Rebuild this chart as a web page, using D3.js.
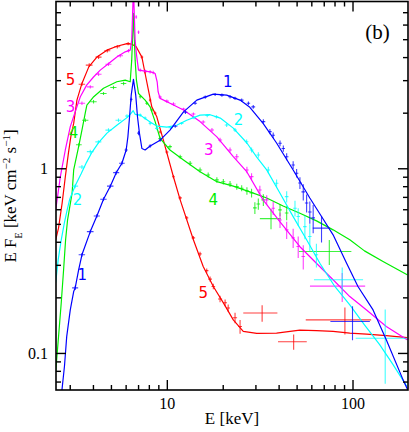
<!DOCTYPE html>
<html>
<head>
<meta charset="utf-8">
<script src="https://cdn.jsdelivr.net/npm/d3@7"></script>
<style>
  body { margin: 0; background: #fff; }
  svg text { font-family: "Liberation Serif", "Times New Roman", serif; }
</style>
</head>
<body>
<svg id="chart" width="409" height="432"></svg>
<script>
// ----- TICKS -----
const xMajor = [10, 100];
const xMinor = [3, 4, 5, 6, 7, 8, 9, 20, 30, 40, 50, 60, 70, 80, 90];
const yMajor = [0.1, 1];
const yMinor = [0.07, 0.08, 0.09, 0.2, 0.3, 0.4, 0.5, 0.6, 0.7, 0.8, 0.9, 2, 3, 4, 5, 6, 7];

// ----- MODELS [E keV, E F_E] -----
const model1 = [[2.69,0.056],[2.81,0.0847],[2.89,0.123],[3.02,0.171],[3.15,0.215],[3.21,0.225],[3.35,0.282],[3.49,0.34],[3.87,0.454],[4.2,0.552],[4.56,0.68],[4.96,0.8],[5.34,0.947],[5.73,1.064],[6.04,1.256],[6.17,1.48],[6.3,1.9],[6.43,2.49],[6.61,3.03],[6.8,2.49],[6.95,1.9],[7.12,1.55],[7.34,1.28],[7.64,1.256],[8.13,1.32],[9.2,1.42],[10.4,1.61],[12.3,2.02],[14.5,2.34],[17.8,2.52],[21,2.49],[24.8,2.34],[28,2.14],[33,1.75],[39,1.37],[47.9,0.979],[58.9,0.69],[68.1,0.548],[78.6,0.436],[92.8,0.307],[107,0.229],[129,0.171],[152,0.118],[187,0.0717],[203,0.06]];
const model2 = [[2.52,0.24],[2.6,0.32],[2.7,0.41],[2.8,0.5],[2.9,0.59],[3.0,0.68],[3.2,0.8],[3.45,0.93],[3.7,1.08],[3.95,1.22],[4.3,1.38],[4.76,1.55],[5.38,1.71],[6.1,1.88],[6.35,1.96],[6.59,2.05],[6.75,1.96],[7.19,1.94],[8.13,1.78],[8.87,1.69],[10,1.67],[11.3,1.71],[12.8,1.82],[15.1,1.94],[17.1,1.95],[19.4,1.87],[22.8,1.65],[27,1.37],[30.5,1.15],[34.5,0.98],[40.7,0.733],[47.9,0.547],[56.6,0.41],[66.7,0.306],[80.3,0.229],[96.7,0.182],[116,0.142],[140,0.111],[165,0.0867],[196,0.066]];
const model3 = [[2.52,0.594],[2.67,0.9],[2.84,1.256],[3.02,1.68],[3.21,2.02],[3.42,2.44],[3.7,2.82],[4.04,3.13],[4.38,3.4],[4.86,3.69],[5.38,4.0],[5.97,4.27],[6.35,4.36],[6.47,4.94],[6.61,9.5],[6.75,4.94],[6.87,4.1],[7.04,3.4],[8.13,3.33],[8.65,3.26],[8.87,2.94],[8.98,2.59],[9.2,2.39],[10.4,2.25],[12.3,2.07],[15.1,1.79],[18.6,1.48],[22.8,1.155],[27,0.955],[33,0.674],[40.7,0.513],[52.1,0.376],[63.9,0.306],[78.6,0.249],[96.7,0.202],[119,0.171],[152,0.139],[197,0.118]];
const model4 = [[2.52,0.079],[2.61,0.122],[2.7,0.187],[2.78,0.282],[2.85,0.41],[2.92,0.525],[3.09,0.735],[3.15,0.979],[3.35,1.31],[3.49,1.61],[3.64,2.0],[3.71,2.2],[4.04,2.44],[4.56,2.71],[5.38,2.94],[5.97,3.0],[6.35,2.94],[6.47,3.85],[6.61,6.9],[6.75,3.85],[6.86,3.0],[7.04,2.54],[7.64,2.34],[8.13,2.15],[8.65,1.79],[9.2,1.45],[10.4,1.256],[12.3,1.11],[15.1,0.958],[18.6,0.846],[22.8,0.8],[28,0.745],[34.5,0.69],[42.3,0.625],[52.1,0.571],[64,0.519],[78.6,0.464],[96.7,0.41],[116,0.357],[146,0.313],[197,0.265]];
const model5 = [[2.52,0.41],[2.61,0.474],[2.73,0.647],[2.84,0.9],[2.95,1.205],[3.04,1.48],[3.15,1.75],[3.28,2.34],[3.49,2.88],[3.8,3.54],[4.2,4.0],[4.76,4.36],[5.38,4.58],[6.1,4.73],[6.49,4.7],[6.84,4.55],[7.34,4.0],[7.64,3.26],[7.96,2.65],[8.3,2.15],[8.83,1.9],[9.58,1.42],[10.85,0.9],[11.8,0.674],[13.9,0.41],[15.7,0.294],[17.8,0.229],[20.2,0.186],[22.8,0.151],[25.8,0.131],[30.5,0.1275],[39,0.128],[52,0.133],[64,0.132],[78.6,0.131],[96.7,0.128],[119,0.1265],[152,0.124],[197,0.121]];

// ----- DATA [E, dE, EF_E, dEF_E] -----
const data1 = [[3.21,0.12,0.225,0.006],[3.49,0.14,0.34,0.008],[3.87,0.16,0.454,0.011],[4.2,0.16,0.552,0.013],[4.56,0.18,0.68,0.016],[4.96,0.2,0.8,0.02],[5.34,0.2,0.947,0.024],[5.73,0.2,1.064,0.026],[6.04,0.12,1.256,0.03],[6.43,0.1,2.36,0.06],[7.04,0.12,1.55,0.04],[8.13,0.15,1.32,0.03],[9.2,0.15,1.42,0.03],[11.1,0.3,1.69,0.03],[12.6,0.3,2.01,0.04],[14.2,0.35,2.25,0.04],[16.1,0.4,2.43,0.05],[18.2,0.45,2.51,0.05],[19.8,0.5,2.49,0.05],[21.9,0.5,2.44,0.05],[23.3,0.55,2.39,0.05],[25.3,0.6,2.34,0.05],[27.5,0.6,2.25,0.05],[29.2,0.7,2.15,0.05],[33.1,0.8,1.79,0.05],[35.9,0.8,1.58,0.05],[37.4,0.8,1.51,0.05],[40.7,0.9,1.365,0.05],[42.4,0.9,1.28,0.05],[44.2,1,1.155,0.05],[47.9,1,1.042,0.05],[50,1.1,0.94,0.05],[52.1,1.1,0.833,0.06],[54.3,1.2,0.745,0.075],[56.6,1.2,0.649,0.073],[58.9,1.3,0.58,0.08],[61.4,1.4,0.539,0.094],[68.1,7,0.474,0.078],[100,24,0.148,0.031]];
const data2 = [[3.21,0.12,0.8,0.02],[3.49,0.14,1.016,0.025],[3.87,0.16,1.23,0.03],[4.28,0.16,1.39,0.03],[4.85,0.18,1.61,0.035],[5.49,0.2,1.82,0.04],[6.1,0.15,1.92,0.04],[7.19,0.15,1.94,0.04],[7.64,0.15,1.87,0.04],[8.13,0.15,1.75,0.04],[8.83,0.2,1.645,0.04],[10.5,0.3,1.66,0.03],[12,0.3,1.75,0.03],[14,0.35,1.88,0.04],[16.5,0.4,1.93,0.04],[18.5,0.45,1.9,0.04],[21,0.5,1.714,0.04],[23.3,0.55,1.611,0.04],[26.9,0.6,1.392,0.04],[28.6,0.7,1.256,0.04],[31.1,0.7,1.18,0.04],[35.2,0.8,0.979,0.04],[39,0.9,0.83,0.04],[44.2,1,0.702,0.05],[49,1.1,0.608,0.06],[51,1.1,0.548,0.06],[55.4,1.2,0.483,0.07],[58.9,1.3,0.427,0.07],[63.9,1.4,0.34,0.05],[88,26,0.249,0.041],[150,46,0.12,0.052]];
const data3 = [[3.49,0.14,2.25,0.05],[3.87,0.16,2.76,0.06],[4.29,0.16,3.23,0.07],[4.85,0.18,3.66,0.08],[5.61,0.2,4.07,0.09],[6.22,0.12,4.33,0.09],[6.84,0.08,6.6,0.15],[7.04,0.08,5.46,0.12],[7.19,0.12,3.4,0.07],[7.64,0.15,3.36,0.07],[8.13,0.15,3.33,0.07],[8.44,0.15,3.3,0.07],[9.2,0.2,2.43,0.05],[10,0.25,2.31,0.05],[10.86,0.3,2.23,0.05],[12.3,0.3,2.09,0.04],[13.9,0.35,1.966,0.04],[15.7,0.4,1.78,0.04],[17.5,0.45,1.611,0.04],[19.35,0.5,1.422,0.04],[21.9,0.5,1.256,0.04],[23.8,0.6,1.155,0.04],[27,0.6,0.979,0.04],[28.6,0.7,0.901,0.04],[31.7,0.7,0.763,0.04],[34.5,0.8,0.674,0.04],[37.4,0.8,0.608,0.05],[40.7,0.9,0.525,0.05],[44.2,1,0.464,0.05],[47.9,1,0.42,0.05],[51,1.1,0.377,0.05],[54.3,1.2,0.333,0.05],[88,29,0.23,0.041]];
const data4 = [[3.36,0.12,1.34,0.03],[3.64,0.14,1.82,0.04],[4.03,0.16,2.29,0.05],[4.56,0.18,2.54,0.05],[5.16,0.2,2.74,0.06],[5.85,0.2,2.88,0.06],[7.19,0.12,2.44,0.05],[7.8,0.15,2.25,0.05],[8.31,0.15,2.07,0.04],[9.2,0.2,1.45,0.03],[10.4,0.25,1.31,0.03],[11.8,0.3,1.155,0.03],[13.35,0.35,1.064,0.03],[15.1,0.4,0.979,0.03],[16.7,0.4,0.92,0.03],[18.6,0.45,0.865,0.03],[20.15,0.5,0.846,0.03],[21.9,0.5,0.822,0.03],[23.8,0.6,0.795,0.03],[25.3,0.6,0.78,0.03],[27,0.6,0.754,0.035],[28.6,0.7,0.735,0.04],[29.8,0.7,0.61,0.045],[31.1,0.7,0.641,0.045],[33.1,0.8,0.674,0.05],[36.4,4.7,0.534,0.067],[40.7,0.9,0.595,0.045],[44.2,1,0.573,0.05],[75,23.6,0.354,0.055]];
const data5 = [[3.49,0.14,2.85,0.06],[3.82,0.16,3.62,0.08],[4.29,0.16,4.0,0.09],[4.78,0.18,4.33,0.09],[5.41,0.2,4.55,0.1],[6.19,0.15,4.73,0.1],[7.34,0.12,4.0,0.08],[7.64,0.12,3.32,0.07],[8.13,0.12,2.34,0.05],[8.65,0.15,1.99,0.04],[9.2,0.15,1.571,0.03],[10,0.2,1.225,0.025],[10.86,0.2,0.9,0.02],[11.8,0.25,0.691,0.015],[12.8,0.25,0.539,0.012],[13.9,0.3,0.42,0.01],[15.1,0.3,0.344,0.009],[16.4,0.35,0.279,0.008],[17.1,0.4,0.251,0.008],[17.8,0.4,0.229,0.008],[19.35,0.5,0.196,0.008],[20.6,0.5,0.187,0.008],[21.4,0.5,0.175,0.008],[23.3,0.6,0.155,0.01],[24.8,0.6,0.139,0.012],[32.6,6.8,0.1645,0.017],[48.2,8.5,0.115,0.011],[91,35,0.151,0.025]];

// curve number labels, anchored in data units
const labels1 = [[21.3,2.94],[3.5,0.265]];
const labels2 = [[24.3,1.824],[3.3,0.674]];
const labels3 = [[16.8,1.256],[3.03,2.15]];
const labels4 = [[17.8,0.674],[3.14,1.546]];
const labels5 = [[3.03,3.0],[15.7,0.211]];

const series = [
  { name: "5", color: "#ff0000", model: model5, data: data5, labels: labels5 },
  { name: "4", color: "#00ee00", model: model4, data: data4, labels: labels4 },
  { name: "3", color: "#ff00ff", model: model3, data: data3, labels: labels3 },
  { name: "2", color: "#00ffff", model: model2, data: data2, labels: labels2 },
  { name: "1", color: "#0000ff", model: model1, data: data1, labels: labels1 }
];

// ----- SCALES -----
const padL = 56, padR = 408, padT = 1.5, padB = 390;
const xScale = d3.scaleLog().domain([2.53, 199]).range([padL, padR]);
const yScale = d3.scaleLog().domain([0.063, 8]).range([padB, padT]);

const svg = d3.select("#chart");

svg.append("clipPath").attr("id", "clip")
  .append("rect")
  .attr("x", padL).attr("y", padT)
  .attr("width", padR - padL).attr("height", padB - padT);

const plot = svg.append("g").attr("clip-path", "url(#clip)");

const line = d3.line().x(d => xScale(d[0])).y(d => yScale(d[1]));

// ----- DATA CROSSES + MODELS -----
series.forEach(s => {
  const g = plot.append("g").attr("stroke", s.color).attr("fill", "none");
  g.selectAll("line.h").data(s.data).enter().append("line")
    .attr("x1", d => xScale(d[0] - d[1]))
    .attr("x2", d => xScale(d[0] + d[1]))
    .attr("y1", d => yScale(d[2]))
    .attr("y2", d => yScale(d[2]))
    .attr("stroke-width", 1.1).attr("opacity", 0.75);
  g.selectAll("line.v").data(s.data).enter().append("line")
    .attr("x1", d => xScale(d[0]))
    .attr("x2", d => xScale(d[0]))
    .attr("y1", d => yScale(d[2] - d[3]))
    .attr("y2", d => yScale(d[2] + d[3]))
    .attr("stroke-width", 1.1).attr("opacity", 0.75);
  g.append("path").datum(s.model)
    .attr("d", line)
    .attr("stroke-width", 1.2)
    .attr("stroke-linejoin", "round");
});

series.forEach(s => {
  svg.selectAll(null).data(s.labels).enter().append("text")
    .attr("x", d => xScale(d[0]))
    .attr("y", d => yScale(d[1]))
    .attr("text-anchor", "middle")
    .attr("dominant-baseline", "central")
    .style("font-family", "'DejaVu Sans', sans-serif")
    .style("font-size", "15px")
    .attr("fill", s.color)
    .text(s.name);
});

// ----- AXES -----
function drawAxis(gen, vals, size, transform, withLabels) {
  const g = svg.append("g")
    .attr("transform", transform)
    .call(gen.tickValues(vals).tickSizeInner(size).tickSizeOuter(0).tickPadding(8)
      .tickFormat(withLabels ? d3.format("~g") : () => ""));
  g.select(".domain").remove();
  g.selectAll("line").attr("stroke", "#000").attr("stroke-width", 1.4);
  g.selectAll("text")
    .style("font-family", "'Liberation Serif', serif")
    .style("font-size", "16px")
    .attr("fill", "#000");
  return g;
}

drawAxis(d3.axisBottom(xScale), xMajor, -10, `translate(0,${padB})`, true);
drawAxis(d3.axisBottom(xScale), xMinor, -5, `translate(0,${padB})`, false);
drawAxis(d3.axisTop(xScale), xMajor, -10, `translate(0,${padT})`, false);
drawAxis(d3.axisTop(xScale), xMinor, -5, `translate(0,${padT})`, false);
drawAxis(d3.axisLeft(yScale), yMajor, -10, `translate(${padL},0)`, true);
drawAxis(d3.axisLeft(yScale), yMinor, -5, `translate(${padL},0)`, false);
drawAxis(d3.axisRight(yScale), yMajor, -10, `translate(${padR},0)`, false);
drawAxis(d3.axisRight(yScale), yMinor, -5, `translate(${padR},0)`, false);

// frame
svg.append("rect")
  .attr("x", padL).attr("y", padT)
  .attr("width", padR - padL).attr("height", padB - padT)
  .attr("fill", "none").attr("stroke", "#000").attr("stroke-width", 1.6);

// ----- TITLES -----
svg.append("text")
  .attr("x", 232).attr("y", 424)
  .attr("text-anchor", "middle")
  .style("font-size", "17px")
  .text("E [keV]");

const yTitle = svg.append("text")
  .attr("transform", "translate(16,196) rotate(-90)")
  .attr("text-anchor", "middle")
  .style("font-size", "17px");
yTitle.append("tspan").text("E F");
yTitle.append("tspan").attr("baseline-shift", "sub").style("font-size", "10px").text("E");
yTitle.append("tspan").text(" [keV cm");
yTitle.append("tspan").attr("baseline-shift", "super").style("font-size", "11px").text("\u22122");
yTitle.append("tspan").text(" s");
yTitle.append("tspan").attr("baseline-shift", "super").style("font-size", "11px").text("\u22121");
yTitle.append("tspan").text("]");

svg.append("text")
  .attr("x", 377.5).attr("y", 39)
  .attr("text-anchor", "middle")
  .style("font-size", "21px")
  .text("(b)");
</script>
</body>
</html>
